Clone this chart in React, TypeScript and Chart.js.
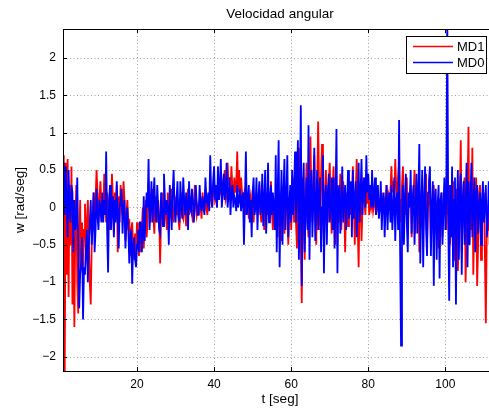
import React, { useEffect, useRef } from "react";
import { Chart, registerables } from "chart.js";
Chart.register(...registerables);

const T_START = 1;
const T_STEP = 0.25;

const md1: number[] = [
  0.7, -2.19, 0.6, -0.9, 0.65, -1.2, 0.3, -0.5, 0.55, -1.3, -0.4, -1.6, -0.2, 0.3, -1.0, -1.42, -0.5, 0.1, -0.8, -0.2,
  -0.9, -0.3, 0.05, -0.6, -0.2, 0.1, -0.45, -1.0, -1.3, -0.5, -0.1, 0.2, -0.3, 0.1, 0.5, 0.2, -0.2, 0.1, 0.35, 0.05,
  0.1, -0.1, 0.45, 0.15, -0.2, 0.2, 0.05, -0.3, 0.15, 0.0, 0.45, 0.1, -0.35, 0.2, 0.0, 0.3, -0.6, 0.15, -0.2, 0.3,
  0.05, -0.1, 0.35, 0.1, -0.45, -0.1, 0.1, -0.3, -0.15, -0.65, -0.3, -0.2, -0.5, -0.7, -0.35, -0.6, -0.2, -0.45, -0.65, -0.3,
  -0.6, -0.3, 0.0, -0.55, -0.2, 0.1, -0.4, -0.15, 0.35, 0.0, -0.2, 0.1, 0.25, -0.1, -0.35, 0.15, 0.0, -0.2, 0.1, -0.1,
  -0.75, -0.1, 0.2, -0.05, -0.25, 0.05, -0.1, -0.3, 0.2, 0.0, -0.15, 0.1, 0.25, -0.05, -0.2, 0.05, 0.1, -0.1, 0.0, -0.15,
  -0.3, 0.0, 0.2, -0.1, -0.15, 0.05, -0.05, -0.25, 0.1, 0.25, -0.1, 0.0, 0.15, -0.05, -0.2, 0.0, 0.3, 0.05, -0.1, 0.0,
  -0.1, 0.1, 0.0, -0.15, 0.2, 0.05, -0.05, 0.25, 0.0, -0.1, 0.1, 0.05, 0.3, 0.1, 0.0, 0.2, 0.35, 0.1, 0.15, 0.0,
  0.35, 0.1, 0.2, 0.45, 0.15, 0.3, 0.2, 0.5, 0.1, 0.15, 0.6, 0.3, 0.4, 0.2, 0.55, 0.25, 0.1, 0.4, 0.2, 0.3,
  0.75, 0.2, 0.5, 0.1, 0.4, 0.2, 0.0, 0.15, 0.25, -0.1, 0.1, 0.2, -0.15, 0.05, 0.15, 0.0, 0.1, -0.2, 0.05, 0.1,
  0.15, -0.1, 0.05, 0.3, -0.05, -0.2, 0.1, 0.0, -0.3, 0.05, 0.2, -0.1, 0.0, 0.1, -0.15, 0.35, -0.05, -0.3, 0.1, 0.0,
  0.15, -0.1, -0.4, 0.05, 0.2, -0.2, -0.45, 0.0, 0.1, -0.35, 0.15, 0.3, -0.1, -0.5, 0.05, 0.2, -0.3, 0.1, 0.4, -0.2,
  0.7, -0.2, -0.55, 0.3, 0.8, 0.0, -0.5, -1.28, 0.4, -0.1, -0.7, 0.2, 0.6, -0.2, -0.4, 0.3, 0.95, 0.1, -0.2, 0.4,
  0.7, -0.1, -0.5, 0.3, 1.15, 0.2, -0.3, 0.4, 0.85, -0.1, -0.45, 0.2, 0.5, 0.0, -0.2, 0.3, 0.6, 0.1, -0.35, 0.2,
  0.55, 0.0, -0.5, 0.1, 0.3, -0.2, 0.1, 0.45, -0.3, 0.0, 0.35, 0.1, -0.6, 0.05, 0.2, -0.25, 0.1, 0.3, -0.1, 0.0,
  0.55, 0.1, -0.5, 0.2, 0.65, -0.2, -0.8, 0.1, 0.3, -0.45, 0.0, 0.4, 0.1, -0.1, 0.25, 0.05, 0.25, -0.1, 0.1, 0.0,
  0.1, -0.05, 0.05, 0.15, -0.1, 0.0, 0.05, -0.1, 0.1, 0.0, 0.2, -0.05, 0.05, 0.1, 0.0, 0.3, 0.05, 0.15, 0.0, 0.2,
  0.55, 0.2, 0.35, 0.1, 0.65, 0.3, 0.1, 0.4, 0.6, -0.2, 0.1, 0.3, 0.55, 0.0, 0.2, -0.1, 0.4, -0.3, 0.1, 0.2,
  0.3, -0.4, 0.0, 0.2, 0.5, -0.35, 0.1, 0.0, 0.35, -0.6, -0.1, 0.15, 0.3, -0.3, 0.0, 0.2, 0.45, -0.45, 0.05, 0.1,
  0.25, -0.5, 0.0, 0.1, 0.3, -0.35, -0.1, 0.05, 0.1, -0.55, -0.2, 0.0, 0.2, -0.4, -0.1, 0.0, 0.05, -0.3, 0.1, -0.1,
  0.3, -0.5, -0.1, 0.1, 0.35, -0.7, -0.2, 0.05, 0.25, -0.85, -0.3, 0.1, 0.9, -0.6, -0.2, 0.3, 0.4, -1.0, -0.4, 0.2,
  1.08, -0.5, 0.2, -0.3, 0.8, -0.9, -0.2, 0.1, 0.4, -1.05, -0.5, 0.2, 0.3, -0.7, -0.2, 0.1, 0.2, -0.6, -1.55, -0.3,
  -0.3, 0.1, -0.5, 0.2, -0.8, -0.2, 0.2, -0.5, 0.0, -0.3, 0.1, 0.0,
];

const md0: number[] = [
  0.6, -0.1, 0.55, 0.1, -0.4, 0.5, 0.0, -0.2, 0.3, 0.2, -0.6, 0.1, -0.3, -0.2, 0.4, -0.5, -1.35, -0.9, -0.75, -0.4,
  -1.5, -0.8, -0.9, -0.6, -0.3, -1.0, -0.5, -0.2, 0.1, -0.5, -0.2, 0.2, -0.6, -0.3, 0.25, -0.1, -0.3, 0.1, 0.0, -0.2,
  0.2, -0.2, 0.1, -0.1, 0.75, -0.3, -0.87, 0.1, 0.3, -0.3, 0.0, 0.15, -0.4, 0.1, -0.2, 0.35, -0.1, -0.55, 0.0, 0.1,
  0.25, -0.35, 0.0, 0.1, -0.55, -0.2, 0.0, -0.3, -0.75, -0.4, -0.3, -1.02, -0.5, -0.4, -0.7, -0.8, -0.5, -0.3, -0.6, -0.2,
  -0.2, -0.6, -0.4, 0.15, -0.45, -0.1, 0.2, 0.0, 0.65, -0.3, 0.0, 0.35, -0.2, 0.1, 0.4, -0.1, -0.2, 0.3, 0.0, -0.3,
  -0.35, 0.2, 0.0, -0.25, 0.45, 0.1, -0.1, 0.1, 0.0, -0.5, 0.3, 0.05, -0.3, 0.2, 0.5, 0.0, -0.2, 0.1, 0.35, -0.1,
  -0.2, 0.35, 0.0, -0.15, 0.4, 0.1, -0.1, 0.2, 0.05, -0.3, 0.35, 0.0, -0.05, 0.25, 0.1, -0.2, 0.0, 0.3, 0.05, -0.1,
  -0.1, 0.3, 0.05, -0.05, 0.15, 0.0, -0.1, 0.4, 0.1, 0.05, 0.2, -0.05, 0.7, 0.2, 0.0, 0.35, 0.55, 0.1, 0.3, 0.0,
  0.55, 0.1, 0.3, 0.65, 0.0, 0.2, 0.45, 0.1, 0.25, 0.6, 0.0, 0.15, 0.4, -0.1, 0.2, 0.3, 0.0, 0.15, 0.1, -0.05,
  0.3, 0.0, 0.1, 0.25, -0.05, 0.15, 0.2, -0.5, 0.1, 0.75, -0.1, 0.05, 0.3, -0.2, 0.1, -0.4, 0.2, 0.4, -0.1, 0.0,
  0.4, -0.3, 0.1, 0.35, -0.1, 0.0, 0.45, -0.25, 0.1, 0.5, -0.35, 0.0, 0.6, -0.2, 0.1, 0.3, -0.1, 0.2, 0.0, -0.3,
  0.7, -0.6, 0.2, 0.9, -0.8, 0.0, 0.5, -0.5, 0.2, 0.65, -0.3, 0.1, 0.7, -0.4, 0.0, 0.3, -0.2, 0.5, -0.1, 0.2,
  0.75, -0.2, 0.3, 0.9, -0.7, 0.1, 1.37, -1.05, 0.2, 0.6, -0.6, 0.0, 0.4, -0.3, 1.1, -0.7, 0.2, 0.5, -0.4, 0.1,
  0.8, -0.45, 0.0, 0.5, -0.3, 0.2, 0.4, -0.6, 0.0, 0.7, -0.88, 0.1, 0.3, -0.5, 0.2, 0.45, -0.2, 0.0, 0.4, -0.3,
  0.4, -0.55, 0.1, 1.05, -0.88, 0.2, 0.3, -0.35, 0.0, 0.55, -0.2, 0.1, 0.3, -0.3, 0.05, 0.5, -0.15, 0.2, 0.35, -0.4,
  0.5, -0.15, 0.1, 0.35, -0.4, 0.0, 0.6, -0.2, 0.2, 0.65, -0.1, 0.3, 0.4, 0.0, 0.7, 0.2, 0.45, 0.1, 0.3, 0.0,
  0.5, 0.0, 0.2, 0.4, -0.1, 0.1, 0.3, -0.15, 0.0, 0.35, -0.3, 0.1, 0.2, -0.4, 0.0, 0.3, -0.3, 0.1, 0.2, -0.2,
  0.3, -0.3, 0.0, 0.4, -0.45, 0.1, 0.2, -0.3, 1.17, -0.5, -1.85, 0.0, 0.3, -0.5, 0.1, 0.45, -0.2, -0.6, 0.2, 0.0,
  0.5, -0.35, 0.1, 0.3, -0.5, 0.0, 0.45, -0.35, 0.2, 0.85, -0.75, 0.0, 0.5, -0.8, 0.1, 0.55, -0.3, -0.65, 0.2, 0.35,
  0.55, -0.65, 0.0, 0.35, -1.05, 0.1, 0.25, -0.7, 0.0, 0.3, -0.95, 0.1, 0.2, -0.5, 0.0, 0.4, -0.3, 0.1, 2.6, -0.2,
  -1.25, 0.3, -0.4, 0.55, -0.8, 0.1, 0.4, -1.3, 0.0, 0.5, -0.7, 0.2, 0.45, -0.9, 0.1, 0.35, -0.5, 0.0, 0.6, -0.8,
  0.35, -0.5, 0.1, 0.6, -0.4, 0.0, 0.4, -0.6, 0.2, 0.3, -0.35, 0.0, 0.2, -0.5, 0.1, 0.35, -0.2, 0.0, 0.3, -0.4,
  -0.2, 0.35, 0.0, -0.5, 0.1, 0.2, -0.2, 0.0, 0.1, -0.3, 0.15, 0.0,
];

const seriesNames = ["MD1", "MD0"];
const xTicks = [20, 40, 60, 80, 100];
const yTicks = [-2, -1.5, -1, -0.5, 0, 0.5, 1, 1.5, 2];
const titleText = "Velocidad angular";
const xLabel = "t [seg]";
const yLabel = "w [rad/seg]";

const FONT = "'Liberation Sans', Arial, Helvetica, sans-serif";

function toPoints(vals: number[]) {
  return vals.map((v, i) => ({ x: T_START + i * T_STEP, y: v }));
}

const fmt = (v: number) => (v < 0 ? "\u2212" + String(Math.abs(v)) : String(v));

const decorPlugin = {
  id: "decor",
  beforeDatasetsDraw(chart: any) {
    const { ctx, chartArea: a, scales } = chart;
    ctx.save();
    ctx.strokeStyle = "#a0a0a0";
    ctx.lineWidth = 1;
    ctx.setLineDash([1, 2.5]);
    for (const t of xTicks) {
      const px = Math.round(scales.x.getPixelForValue(t)) + 0.5;
      ctx.beginPath();
      ctx.moveTo(px, a.top);
      ctx.lineTo(px, a.bottom);
      ctx.stroke();
    }
    for (const t of yTicks) {
      const py = Math.round(scales.y.getPixelForValue(t)) + 0.5;
      ctx.beginPath();
      ctx.moveTo(a.left, py);
      ctx.lineTo(a.right, py);
      ctx.stroke();
    }
    ctx.restore();
  },
  afterDraw(chart: any) {
    const { ctx, chartArea: a, scales } = chart;
    ctx.save();
    ctx.setLineDash([]);
    ctx.strokeStyle = "#000";
    ctx.lineWidth = 1;
    for (const t of xTicks) {
      const px = Math.round(scales.x.getPixelForValue(t)) + 0.5;
      ctx.beginPath();
      ctx.moveTo(px, a.bottom);
      ctx.lineTo(px, a.bottom - 4);
      ctx.moveTo(px, a.top);
      ctx.lineTo(px, a.top + 4);
      ctx.stroke();
    }
    for (const t of yTicks) {
      const py = Math.round(scales.y.getPixelForValue(t)) + 0.5;
      ctx.beginPath();
      ctx.moveTo(a.left, py);
      ctx.lineTo(a.left + 4, py);
      ctx.moveTo(a.right, py);
      ctx.lineTo(a.right - 4, py);
      ctx.stroke();
    }
    ctx.strokeRect(Math.round(a.left) + 0.5, Math.round(a.top) + 0.5, Math.round(a.right - a.left), Math.round(a.bottom - a.top));
    ctx.fillStyle = "#000";
    ctx.font = `13.5px ${FONT}`;
    ctx.textAlign = "center";
    ctx.textBaseline = "middle";
    ctx.fillText(titleText, (a.left + a.right) / 2, 14);
    ctx.fillText(xLabel, (a.left + a.right) / 2, 399);
    ctx.save();
    ctx.translate(20, (a.top + a.bottom) / 2);
    ctx.rotate(-Math.PI / 2);
    ctx.fillText(yLabel, 0, 0);
    ctx.restore();
    const lx = 406, ly = 36, lw = 80, lh = 37;
    ctx.fillStyle = "#fff";
    ctx.fillRect(lx, ly, lw, lh);
    ctx.strokeStyle = "#000";
    ctx.lineWidth = 1;
    ctx.strokeRect(lx + 0.5, ly + 0.5, lw, lh);
    const colors = ["#ff0000", "#0000ff"];
    const rows = [46, 62];
    ctx.font = `13px ${FONT}`;
    for (let i = 0; i < 2; i++) {
      ctx.strokeStyle = colors[i];
      ctx.lineWidth = 1.3;
      ctx.beginPath();
      ctx.moveTo(413, rows[i] + 0.5);
      ctx.lineTo(453, rows[i] + 0.5);
      ctx.stroke();
      ctx.fillStyle = "#000";
      ctx.textAlign = "left";
      ctx.fillText(seriesNames[i], 457, rows[i] + 1);
    }
    ctx.restore();
  },
};

export default function App() {
  const ref = useRef<HTMLCanvasElement | null>(null);
  useEffect(() => {
    if (!ref.current) return;
    const chart = new Chart(ref.current, {
      type: "line",
      data: {
        datasets: [
          {
            label: seriesNames[1],
            data: toPoints(md0),
            borderColor: "#0000ff",
            borderWidth: 1.8,
            pointRadius: 0,
            tension: 0,
            clip: 0,
          },
          {
            label: seriesNames[0],
            data: toPoints(md1),
            borderColor: "#ff0000",
            borderWidth: 1.8,
            pointRadius: 0,
            tension: 0,
            clip: 0,
          },
        ],
      },
      options: {
        animation: false,
        responsive: false,
        devicePixelRatio: 1,
        layout: { padding: { left: 0, top: 29, right: 3, bottom: 0 } },
        plugins: { legend: { display: false }, title: { display: false }, tooltip: { enabled: false } },
        scales: {
          x: {
            type: "linear",
            min: 0.8,
            max: 113.4,
            grid: { display: false },
            border: { display: false },
            ticks: {
              color: "#000",
              font: { family: FONT, size: 12 },
              padding: -2,
              maxRotation: 0,
              autoSkip: false,
              callback: (v: any) => fmt(Number(v)),
            },
            afterBuildTicks: (s: any) => {
              s.ticks = xTicks.map((v) => ({ value: v }));
            },
            afterFit: (s: any) => {
              s.height = 40;
            },
          },
          y: {
            type: "linear",
            min: -2.19,
            max: 2.39,
            grid: { display: false },
            border: { display: false },
            ticks: {
              color: "#000",
              font: { family: FONT, size: 12 },
              padding: -1,
              autoSkip: false,
              callback: (v: any) => fmt(Number(v)),
            },
            afterBuildTicks: (s: any) => {
              s.ticks = yTicks.map((v) => ({ value: v }));
            },
            afterFit: (s: any) => {
              s.width = 63;
            },
          },
        },
      },
      plugins: [decorPlugin],
    });
    return () => chart.destroy();
  }, []);
  return (
    <div style={{ position: "fixed", left: 0, top: 0, width: 489, height: 411, overflow: "hidden", background: "#fff" }}>
      <canvas ref={ref} width={500} height={411} style={{ width: 500, height: 411, display: "block" }} />
    </div>
  );
}
